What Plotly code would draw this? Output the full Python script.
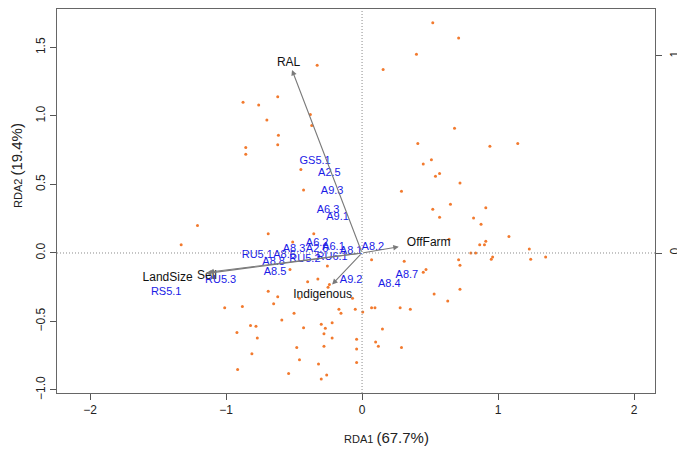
import plotly.graph_objects as go

# site scores (RDA1, RDA2)
site_x = [-0.875, -0.855, -0.855,
          0.52, 0.40, 0.155, -0.33, -0.62, -0.76, -0.70, -0.38, -0.37, -0.615, -0.62,
          0.68, 0.41, 0.45, 0.51, 0.54, 0.57, 0.29, -0.45, -0.43,
          0.71, 0.94, 1.145, 0.72,
          -1.21, -1.33, -1.01, -0.88, -0.82, -0.78, -0.92, -0.81, -0.915,
          0.52, 0.65, 0.57, 0.64, -0.69, -0.355, -0.51, -0.255, -0.53, 0.07, 0.31,
          0.47, 0.45, 0.53, 0.63, -0.40, -0.325, -0.25, -0.24, -0.69, -0.62, -0.65,
          -0.46, -0.07, -0.50, -0.17, -0.155, -0.05, 0.005, 0.07, 0.095, 0.28, 0.355,
          -0.59, -0.43, -0.30, -0.27, -0.28, -0.22, -0.22, -0.77, 0.15, -0.04, 0.10,
          0.12, 0.29, -0.48, -0.28, -0.04, -0.46, -0.04, -0.32, -0.54, -0.26, -0.30,
          0.91, 0.82, 0.875, 1.08, 0.865, 0.90, 0.91, 1.23, 0.80, 0.835, 0.96, 0.95,
          1.24, 1.35, 0.71, 0.72, 0.72]
site_y = [1.10, 0.77, 0.72,
          1.68, 1.45, 1.34, 1.37, 1.14, 1.08, 0.97, 1.01, 0.93, 0.86, 0.79,
          0.91, 0.80, 0.65, 0.68, 0.56, 0.58, 0.45, 0.61, 0.46,
          1.57, 0.78, 0.80, 0.51,
          0.20, 0.06, -0.40, -0.39, -0.53, -0.535, -0.58, -0.735, -0.85,
          0.32, 0.355, 0.26, 0.10, 0.14, 0.14, 0.08, -0.095, -0.12, -0.05, -0.06,
          -0.12, -0.14, -0.30, -0.35, -0.21, -0.19, -0.25, -0.23, -0.28, -0.32, -0.37,
          -0.33, -0.33, -0.44, -0.41, -0.44, -0.41, -0.43, -0.40, -0.40, -0.40, -0.41,
          -0.49, -0.545, -0.52, -0.55, -0.59, -0.62, -0.51, -0.62, -0.555, -0.63, -0.65,
          -0.68, -0.69, -0.69, -0.68, -0.70, -0.78, -0.80, -0.81, -0.88, -0.89, -0.92,
          0.33, 0.255, 0.21, 0.12, 0.06, 0.06, 0.085, 0.03, 0.00, 0.00, -0.03, -0.045,
          -0.045, -0.03, -0.05, -0.09, -0.265]

# species scores (labels only)
spec_names = ["GS5.1", "A2.5", "A9.3", "A6.3", "A9.1", "A6.2", "A8.3", "A2.6", "A6.1",
              "A8.1", "A8.2", "RU5.1", "A8.6", "RU5.2", "RU6.1", "A8.8", "A8.5", "RU5.3",
              "RS5.1", "A9.2", "A8.7", "A8.4"]
spec_x = [-0.345, -0.24, -0.22, -0.25, -0.18, -0.33, -0.50, -0.33, -0.21,
          -0.08, 0.08, -0.77, -0.57, -0.42, -0.22, -0.65, -0.64, -1.04,
          -1.44, -0.08, 0.33, 0.20]
spec_y = [0.67, 0.58, 0.45, 0.31, 0.26, 0.07, 0.03, 0.03, 0.04,
          0.01, 0.04, -0.015, -0.02, -0.045, -0.03, -0.07, -0.14, -0.20,
          -0.285, -0.20, -0.16, -0.23]

# environmental biplot arrows
env_names = ["RAL", "OffFarm", "Sell", "LandSize", "Indigenous"]
env_x = [-0.515, 0.27, -1.13, -1.15, -0.22]
env_y = [1.336, 0.045, -0.14, -0.15, -0.23]
env_lab_x = [-0.54, 0.49, -1.14, -1.43, -0.29]
env_lab_y = [1.39, 0.07, -0.17, -0.18, -0.31]

FONT = "Liberation Sans, Arial, sans-serif"

fig = go.Figure()

fig.add_trace(go.Scatter(
    x=site_x, y=site_y, mode="markers",
    marker=dict(color="#F27A2E", size=3),
    hoverinfo="skip", showlegend=False
))

fig.add_trace(go.Scatter(
    x=spec_x, y=spec_y, mode="text", text=spec_names,
    textfont=dict(color="#1A1AE6", size=11, family=FONT),
    showlegend=False
))

fig.add_trace(go.Scatter(
    x=env_lab_x, y=env_lab_y, mode="text", text=env_names,
    textfont=dict(color="#111111", size=12, family=FONT),
    showlegend=False
))

# invisible trace so the top / right axes get drawn
fig.add_trace(go.Scatter(
    x=[0], y=[0], xaxis="x2", yaxis="y2", mode="markers",
    marker=dict(opacity=0), hoverinfo="skip", showlegend=False
))

for ex, ey in zip(env_x, env_y):
    fig.add_annotation(
        x=ex, y=ey, ax=0, ay=0, xref="x", yref="y", axref="x", ayref="y",
        text="", showarrow=True, arrowhead=2, arrowsize=1, arrowwidth=1.1,
        arrowcolor="#7a7a7a"
    )

# dotted zero lines
fig.add_shape(type="line", xref="paper", yref="y", x0=0, x1=1, y0=0, y1=0,
              line=dict(color="#8a8a8a", width=1, dash="1px,2px"))
fig.add_shape(type="line", xref="x", yref="paper", x0=0, x1=0, y0=0, y1=1,
              line=dict(color="#8a8a8a", width=1, dash="1px,2px"))

# axis titles
fig.add_annotation(
    x=(386 - 57) / 598, y=-(437 - 393) / 384, xref="paper", yref="paper",
    showarrow=False, xanchor="center", yanchor="middle",
    text="RDA1 <span style='font-size:15px'>(67.7%)</span>",
    font=dict(size=11, color="#222222", family=FONT)
)
fig.add_annotation(
    x=-(57 - 16) / 598, y=(393 - 166) / 384, xref="paper", yref="paper",
    showarrow=False, xanchor="center", yanchor="middle", textangle=-90,
    text="RDA2 <span style='font-size:15px'>(19.4%)</span>",
    font=dict(size=11, color="#222222", family=FONT)
)

axis_common = dict(
    showgrid=False, zeroline=False, ticks="outside", ticklen=6,
    tickcolor="#555555", linecolor="#666666", linewidth=1, showline=True,
    automargin=False,
    tickfont=dict(size=12, color="#222222", family=FONT)
)

# page body adds 8px around the figure, so the figure is 8px smaller
fig.update_layout(
    width=677, height=443,
    margin=dict(l=49, r=30, t=1, b=58),
    plot_bgcolor="white", paper_bgcolor="white",
    xaxis=dict(range=[-2.243, 2.154], tickvals=[-2, -1, 0, 1, 2], **axis_common),
    yaxis=dict(range=[-1.022, 1.781], tickvals=[-1.0, -0.5, 0.0, 0.5, 1.0, 1.5],
               tickformat=".1f", tickangle=-90, **axis_common),
    xaxis2=dict(range=[-1.541, 1.480], overlaying="x", side="top",
                tickvals=[-1, 0, 1], showticklabels=False, **axis_common),
    yaxis2=dict(range=[-0.710, 1.238], overlaying="y", side="right",
                tickvals=[0, 1], tickangle=-90, ticklabelstandoff=3, **axis_common),
)

fig.write_html("out.html")
